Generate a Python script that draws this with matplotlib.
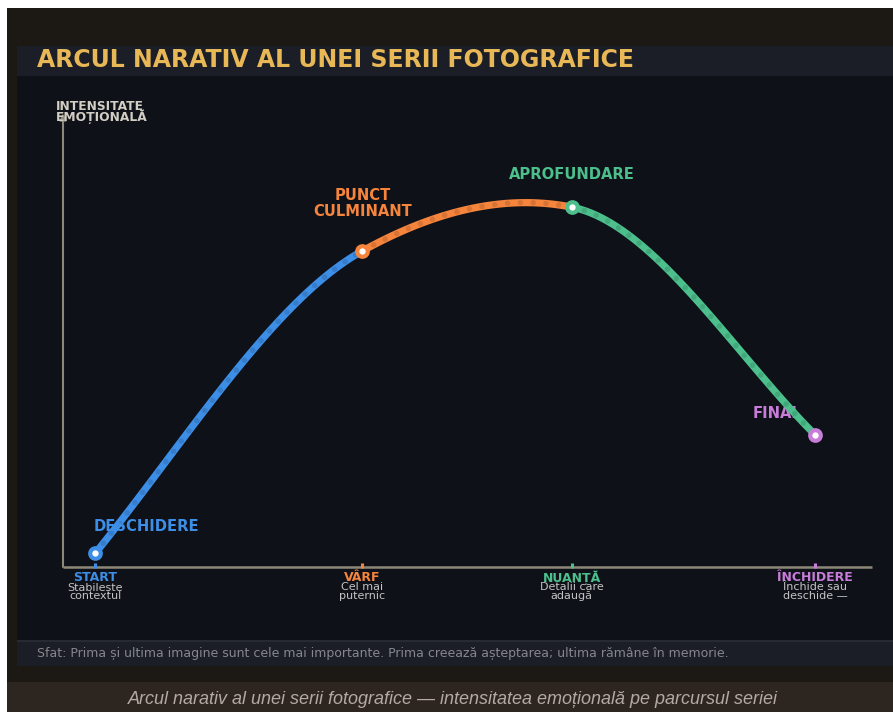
import matplotlib
matplotlib.use("Agg")
import matplotlib.pyplot as plt
from matplotlib.patches import Rectangle
import numpy as np

# ---------------- data ----------------
stage_names = ["START", "VÂRF", "NUANȚĂ", "ÎNCHIDERE"]
stage_notes = ["Stabilește\ncontextul", "Cel mai\nputernic", "Detalii care\nadaugă", "Închide sau\ndeschide —"]
stage_labels = ["DESCHIDERE", "PUNCT\nCULMINANT", "APROFUNDARE", "FINAL"]
stage_x = [4.0, 37.0, 62.9, 93.0]          # position in the series
stage_y = [3.1, 70.7, 80.5, 29.5]          # emotional intensity
stage_slope = [2.23, 1.0, -0.36, -1.81]    # direction of the arc at each stage
stage_colors = ["#3d8ee6", "#f5843c", "#4cbf8c", "#c77dd9"]

title = "ARCUL NARATIV AL UNEI SERII FOTOGRAFICE"
tip = "Sfat: Prima și ultima imagine sunt cele mai importante. Prima creează așteptarea; ultima rămâne în memorie."
caption = "Arcul narativ al unei serii fotografice — intensitatea emoțională pe parcursul seriei"
y_label = "INTENSITATE\nEMOȚIONALĂ"

# ---------------- figure ----------------
W, H = 893, 712
fig = plt.figure(figsize=(W / 100, H / 100), dpi=100, facecolor="white")


def band(x0, y0, x1, y1, color):
    fig.patches.append(Rectangle((x0 / W, 1 - y1 / H), (x1 - x0) / W, (y1 - y0) / H,
                                 transform=fig.transFigure, facecolor=color,
                                 edgecolor="none", zorder=-10))


band(7, 8, 893, 682, "#1c1814")
band(7, 682, 893, 712, "#2d251f")
band(17, 46, 893, 76, "#1b1e26")
band(17, 76, 893, 641, "#0e1118")
band(17, 641, 893, 666, "#1b1e26")
band(17, 640, 893, 642, "#262a33")

fig.text(37 / W, 1 - 60 / H, title, color="#e8b857", fontsize=17,
         fontweight="bold", ha="left", va="center", family="DejaVu Sans")
fig.text(37 / W, 1 - 653 / H, tip, color="#85878c", fontsize=9.0,
         ha="left", va="center", family="DejaVu Sans")
fig.text(453 / W, 1 - 699 / H, caption, color="#b3aba3", fontsize=13,
         style="italic", ha="center", va="center", family="Liberation Sans")

# data axes: x 0..100, y 0..100
ax = fig.add_axes([63 / W, (H - 567) / H, 809 / W, 447 / H])
ax.set_xlim(0, 100)
ax.set_ylim(0, 100)
ax.axis("off")
ax.patch.set_alpha(0)

axis_col = "#8c887a"
ax.plot([0, 100], [0, 0], color=axis_col, lw=1.8, solid_capstyle="butt", clip_on=False, zorder=2)
ax.annotate("", xy=(0, 101.5), xytext=(0, 0),
            arrowprops=dict(arrowstyle="-|>", color=axis_col, lw=1.5, mutation_scale=9,
                            shrinkA=0, shrinkB=0), annotation_clip=False, zorder=2)
ax.text(-0.9, 104.4, y_label, color="#d2cec4", fontsize=8.8, fontweight="bold",
        ha="left", va="top", linespacing=0.66, clip_on=False)


def hermite(x0, y0, m0, x1, y1, m1, n=80):
    """Smooth cubic Hermite rendering between two stages (drawing only)."""
    u = np.linspace(0, 1, n)
    h = x1 - x0
    h00 = 2 * u ** 3 - 3 * u ** 2 + 1
    h10 = u ** 3 - 2 * u ** 2 + u
    h01 = -2 * u ** 3 + 3 * u ** 2
    h11 = u ** 3 - u ** 2
    return x0 + h * u, h00 * y0 + h10 * h * m0 + h01 * y1 + h11 * h * m1


# arc segments, coloured by stage
for i in range(3):
    col = stage_colors[i]
    sx, sy = hermite(stage_x[i], stage_y[i], stage_slope[i],
                     stage_x[i + 1], stage_y[i + 1], stage_slope[i + 1])
    ax.plot(sx, sy, color=col, lw=5.2, solid_capstyle="round",
            solid_joinstyle="round", clip_on=False, zorder=3)
    ax.plot(sx, sy, color="black", alpha=0.12, lw=4.0,
            linestyle=(0, (0.01, 2.3)), dash_capstyle="round", clip_on=False, zorder=3.5)

# stage markers, ticks, labels
for i in range(4):
    col = stage_colors[i]
    ax.plot([stage_x[i]], [stage_y[i]], "o", ms=7.6, mfc="white", mec=col, mew=3.0,
            clip_on=False, zorder=5)
    ax.plot([stage_x[i], stage_x[i]], [-0.2, 0.9], color=col, lw=2.2,
            solid_capstyle="butt", clip_on=False, zorder=2.5)
    ax.text(stage_x[i], -0.8, stage_names[i], color=col, fontsize=9, fontweight="bold",
            ha="center", va="top", clip_on=False)
    ax.text(stage_x[i], -3.4, stage_notes[i], color="#c4c4c4", fontsize=8,
            ha="center", va="top", linespacing=0.8, clip_on=False)

lab_fs = 10.6
ax.text(3.8, 9.1, stage_labels[0], color=stage_colors[0], fontsize=lab_fs, fontweight="bold",
        ha="left", va="center", zorder=4)
ax.text(37.0, 81.3, stage_labels[1], color=stage_colors[1], fontsize=lab_fs, fontweight="bold",
        ha="center", va="center", linespacing=1.05, zorder=4)
ax.text(62.9, 87.7, stage_labels[2], color=stage_colors[2], fontsize=lab_fs, fontweight="bold",
        ha="center", va="center", zorder=4)
ax.text(88.3, 34.4, stage_labels[3], color=stage_colors[3], fontsize=lab_fs, fontweight="bold",
        ha="center", va="center", zorder=2.8)

fig.savefig("out.png", dpi=100, facecolor="white")
